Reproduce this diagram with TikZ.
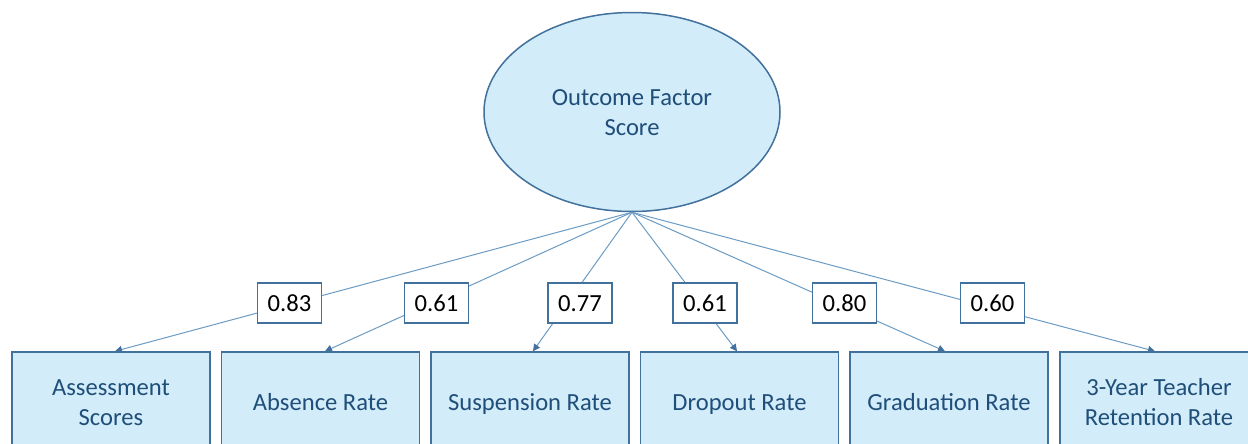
\documentclass[tikz,border=0pt]{standalone}
\usepackage{fontspec}
\setmainfont{Carlito}
\usetikzlibrary{arrows.meta,shapes.geometric}
\definecolor{boxfill}{HTML}{D2ECFA}
\definecolor{boxline}{HTML}{41719C}
\definecolor{txt}{HTML}{1F4E79}
\definecolor{conn}{HTML}{6C9CC4}
\newcommand{\tline}[1]{\rule[-7pt]{0pt}{30pt}#1}
\begin{document}
\begin{tikzpicture}[x=1pt,y=-1pt,
  every node/.style={font=\fontsize{24.6pt}{30pt}\selectfont},
  ell/.style={ellipse,draw=boxline,line width=1.5pt,fill=boxfill,text=txt,
    minimum width=296pt,minimum height=199pt,inner sep=0pt,align=center},
  obs/.style={rectangle,draw=boxline,line width=1.5pt,fill=boxfill,text=txt,
    minimum width=198pt,minimum height=100pt,inner sep=0pt,align=center},
  lab/.style={rectangle,draw=boxline,line width=1.3pt,fill=white,text=black,
    minimum width=64pt,minimum height=40pt,inner sep=0pt},
  conn/.style={draw=conn,line width=1pt,
    -{Triangle[length=7pt,width=7pt,color=boxline]}}]
\useasboundingbox (0,0) rectangle (1248,444);
\fill[white] (0,0) rectangle (1248,444);
\clip (0,0) rectangle (1248,444);

\node[ell] (f) at (632,112) {\tline{Outcome Factor}\\\tline{Score}};
\coordinate (apex) at (f.south);

\node[obs] (b1) at (111,402) {\tline{Assessment}\\\tline{Scores}};
\node[obs] (b2) at (320.5,402) {\tline{Absence Rate}};
\node[obs] (b3) at (530,402) {\tline{Suspension Rate}};
\node[obs] (b4) at (739.5,402) {\tline{Dropout Rate}};
\node[obs] (b5) at (949,402) {\tline{Graduation Rate}};
\node[obs] (b6) at (1159,402) {\tline{3-Year Teacher}\\\tline{Retention Rate}};

\coordinate (t1) at ([xshift=4pt]b1.north);
\coordinate (t2) at ([xshift=4.5pt]b2.north);
\coordinate (t3) at ([xshift=3pt]b3.north);
\coordinate (t4) at ([xshift=-2.5pt]b4.north);
\coordinate (t5) at ([xshift=-4pt]b5.north);
\coordinate (t6) at ([xshift=-4pt]b6.north);

\foreach \t in {t1,t2,t3,t4,t5,t6}{
  \draw[conn] (apex) -- (\t);
}

\node[lab] (l1) at (289.5,303) {\tline{0.83}};
\node[lab] (l2) at (436.5,303) {\tline{0.61}};
\node[lab] (l3) at (580,303) {\tline{0.77}};
\node[lab] (l4) at (705,303) {\tline{0.61}};
\node[lab] (l5) at (844.5,303) {\tline{0.80}};
\node[lab] (l6) at (992.5,303) {\tline{0.60}};
\end{tikzpicture}
\end{document}
